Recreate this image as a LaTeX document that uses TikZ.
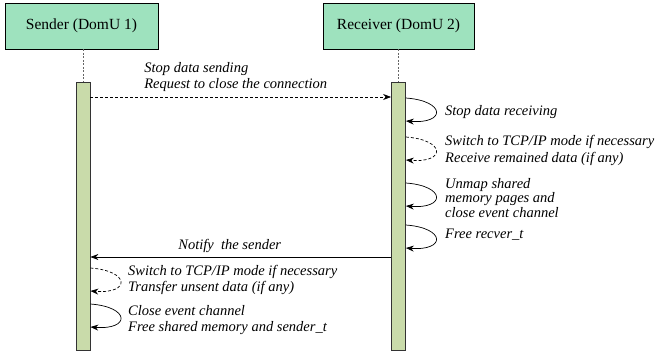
\documentclass[tikz,border=0pt]{standalone}
\usepackage{fontspec}
\setmainfont{Liberation Serif}
\usetikzlibrary{arrows.meta,positioning}
\definecolor{H}{RGB}{158,226,190}
\definecolor{K}{RGB}{201,219,170}
\tikzstyle{actor} = [rectangle, draw=black, line width=0.8pt, fill=H,
minimum width=153pt, minimum height=46pt,
font=\fontsize{15.5}{18}\selectfont]
\tikzstyle{bar} = [rectangle, draw=black!80, line width=0.8pt, fill=K,
minimum width=14pt, minimum height=268pt, inner sep=0pt, anchor=north]
\tikzstyle{life} = [draw=black!60, line width=0.8pt, dash pattern=on 2pt off 1.5pt]
\tikzstyle{msg} = [-{Stealth[length=8pt,width=6pt]}, line width=0.7pt]
\tikzstyle{dsh} = [dash pattern=on 3pt off 2pt]
\tikzstyle{lbl} = [font=\fontsize{14.5}{15.5}\selectfont\itshape, align=left]
\tikzstyle{note} = [lbl, anchor=west, inner sep=0pt]

\begin{document}
\begin{tikzpicture}[
    x=1pt, y=-1pt, % pixel-like units, y grows downwards
  ]
    \useasboundingbox (0,0) rectangle (662,356);

    \node[actor]                      (sender)   at (81.5,26)  {Sender (DomU 1)};
    \node[actor, minimum width=151pt] (receiver) at (398.5,26) {Receiver (DomU 2)};

    \node[bar] (sbar) at (83,82)    {};
    \node[bar] (rbar) at (398.5,82) {};

    \draw[life] (sender.south -| sbar.north) -- (sbar.north);
    \draw[life] (receiver.south -| rbar.north) -- (rbar.north);

    % sender -> receiver
    \draw[msg, dsh] (sbar.east |- 0,97) -- node[lbl, above=2pt, xshift=-5pt] (m1)
        {Stop data sending\\Request to close the connection} (rbar.west |- 0,97);

    % receiver side
    \draw[msg] (rbar.east |- 0,98) .. controls +(40,3) and +(40,3) .. (rbar.east |- 0,121);
    \node[note] (r1) at (445,112) {Stop data receiving};

    \draw[msg, dsh] (rbar.east |- 0,137) .. controls +(40,3) and +(40,3) .. (rbar.east |- 0,160);
    \node[note, font=\fontsize{14.5}{17.5}\selectfont\itshape] (r2) at (445,150.5)
        {Switch to TCP/IP mode if necessary\\Receive remained data (if any)};

    \draw[msg] (rbar.east |- 0,183) .. controls +(40,3) and +(40,3) .. (rbar.east |- 0,206);
    \node[note, font=\fontsize{14.5}{13}\selectfont\itshape] (r3) at (445,198)
        {Unmap shared\\memory pages and\\close event channel};

    \draw[msg] (rbar.east |- 0,225) .. controls +(40,3) and +(40,3) .. (rbar.east |- 0,248);
    \node[note] (r4) at (445,235) {Free recver\_t};

    % receiver -> sender
    \draw[msg] (rbar.west |- 0,257) -- node[lbl, above=1pt, xshift=-11pt] (m2)
        {Notify~ the sender} (sbar.east |- 0,257);

    % sender side
    \draw[msg, dsh] (sbar.east |- 0,268) .. controls +(40,3) and +(40,3) .. (sbar.east |- 0,291);
    \node[note] (s1) at (128,280)
        {Switch to TCP/IP mode if necessary\\Transfer unsent data (if any)};

    \draw[msg] (sbar.east |- 0,304) .. controls +(40,3) and +(40,3) .. (sbar.east |- 0,327);
    \node[note, font=\fontsize{14.5}{16.7}\selectfont\itshape] (s2) at (128,320)
        {Close event channel\\Free shared memory and sender\_t};
\end{tikzpicture}
\end{document}
